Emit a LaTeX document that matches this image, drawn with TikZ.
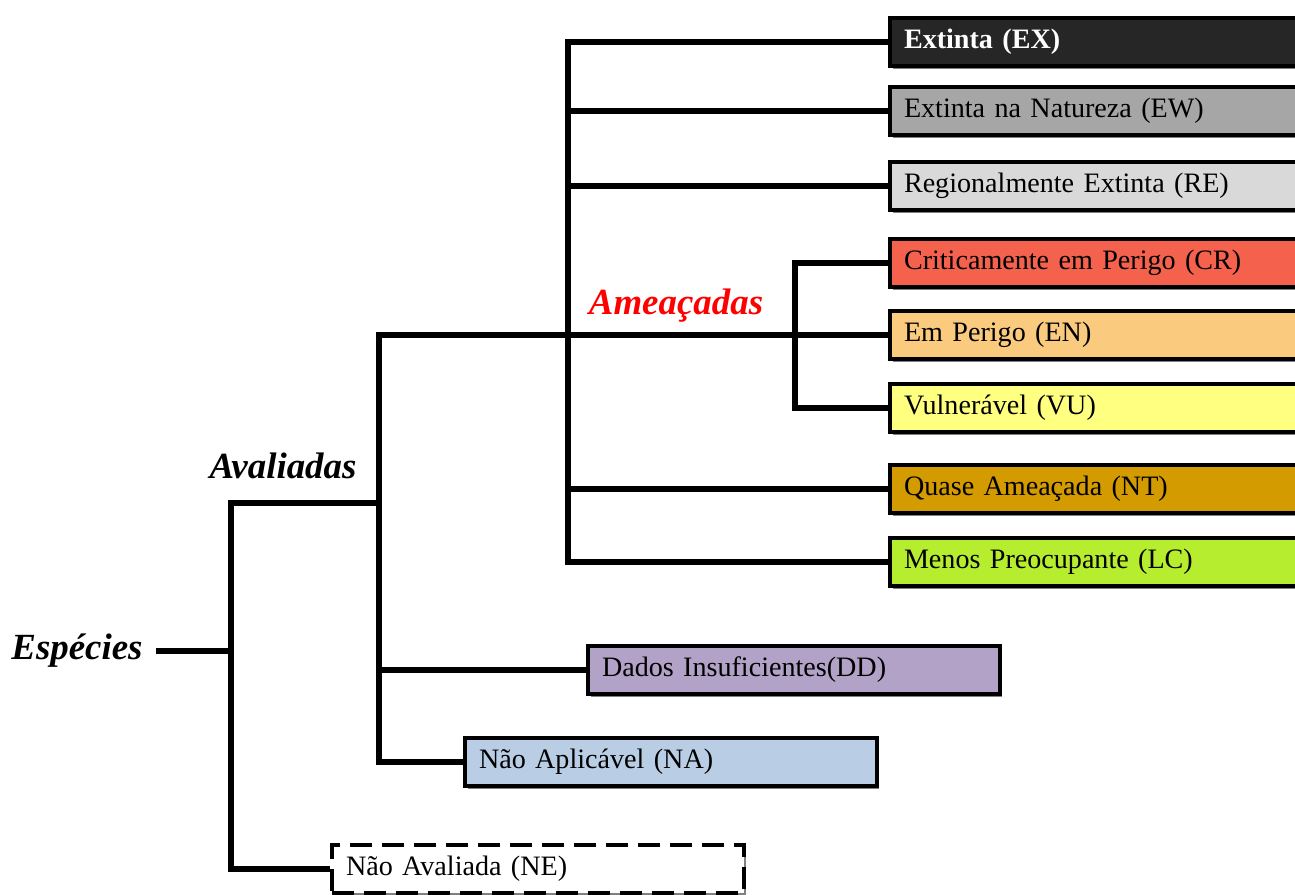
\documentclass[tikz,border=0pt]{standalone}
\usepackage{fontspec}
\setmainfont{Liberation Serif}
\usetikzlibrary{shadows}
\definecolor{exfill}{HTML}{262626}
\definecolor{ewfill}{HTML}{A6A6A6}
\definecolor{refill}{HTML}{D9D9D9}
\definecolor{crfill}{HTML}{F4614D}
\definecolor{enfill}{HTML}{FACB7F}
\definecolor{vufill}{HTML}{FFFF80}
\definecolor{ntfill}{HTML}{D39B00}
\definecolor{lcfill}{HTML}{B6ED2F}
\definecolor{ddfill}{HTML}{B3A2C7}
\definecolor{nafill}{HTML}{B9CDE5}
\tikzset{
  cat/.style={draw, line width=0.08cm, anchor=west, text width=7.68cm, inner xsep=0.28cm,
    minimum height=0.96cm, align=left, font=\fontsize{16}{19}\selectfont,
    drop shadow={shadow xshift=0.05cm, shadow yshift=-0.05cm, fill=black!50, opacity=1}},
  link/.style={line width=0.11cm},
  group/.style={font=\fontsize{21}{25}\selectfont\bfseries\itshape}
}
\begin{document}
\begin{tikzpicture}[x=0.02cm,y=-0.02cm]
        \useasboundingbox (0,0) rectangle (1295,894);
        \node[group, inner xsep=0.26cm] (esp) at (77,651) {Espécies};
        \node[group] (aval) at (283,466) {Avaliadas};
        \node[group, text=red] (amea) at (676,306) {Ameaçadas};
        \node[cat, fill=exfill, text=white, font=\fontsize{16}{19}\selectfont\bfseries] (EX) at (888,42) {Extinta (EX)};
        \node[cat, fill=ewfill] (EW) at (888,111) {Extinta na Natureza (EW)};
        \node[cat, fill=refill] (RE) at (888,186) {Regionalmente Extinta (RE)};
        \node[cat, fill=crfill] (CR) at (888,263) {Criticamente em Perigo (CR)};
        \node[cat, fill=enfill] (EN) at (888,335) {Em Perigo (EN)};
        \node[cat, fill=vufill] (VU) at (888,408) {Vulnerável (VU)};
        \node[cat, fill=ntfill] (NT) at (888,489) {Quase Ameaçada (NT)};
        \node[cat, fill=lcfill] (LC) at (888,562) {Menos Preocupante (LC)};
        \node[cat, fill=ddfill] (DD) at (586,670) {Dados Insuficientes(DD)};
        \node[cat, fill=nafill] (NA) at (463,762) {Não Aplicável (NA)};
        \node[cat, fill=white, drop shadow={opacity=0}, dash pattern=on 0.44cm off 0.2cm] (NE) at (330,869) {Não Avaliada (NE)};
        \coordinate (sp) at (231,503);
        \coordinate (av) at (379,503);
        \coordinate (am) at (568,335);
        \coordinate (th) at (795,335);
        \draw[link] (esp.east) -- (esp.east -| sp);
        \draw[link] (NE.west) -| (sp) -- (av);
        \draw[link] (NA.west) -| (av |- EN.west) -- (EN.west);
        \draw[link] (DD.west) -- (DD.west -| av);
        \draw[link] (EX.west) -| (am);
        \draw[link] (LC.west) -| (am);
        \foreach \n in {EW,RE,NT}
          \draw[link] (\n.west) -- (\n.west -| am);
        \draw[link] (CR.west) -| (th);
        \draw[link] (VU.west) -| (th);
      \end{tikzpicture}
\end{document}
